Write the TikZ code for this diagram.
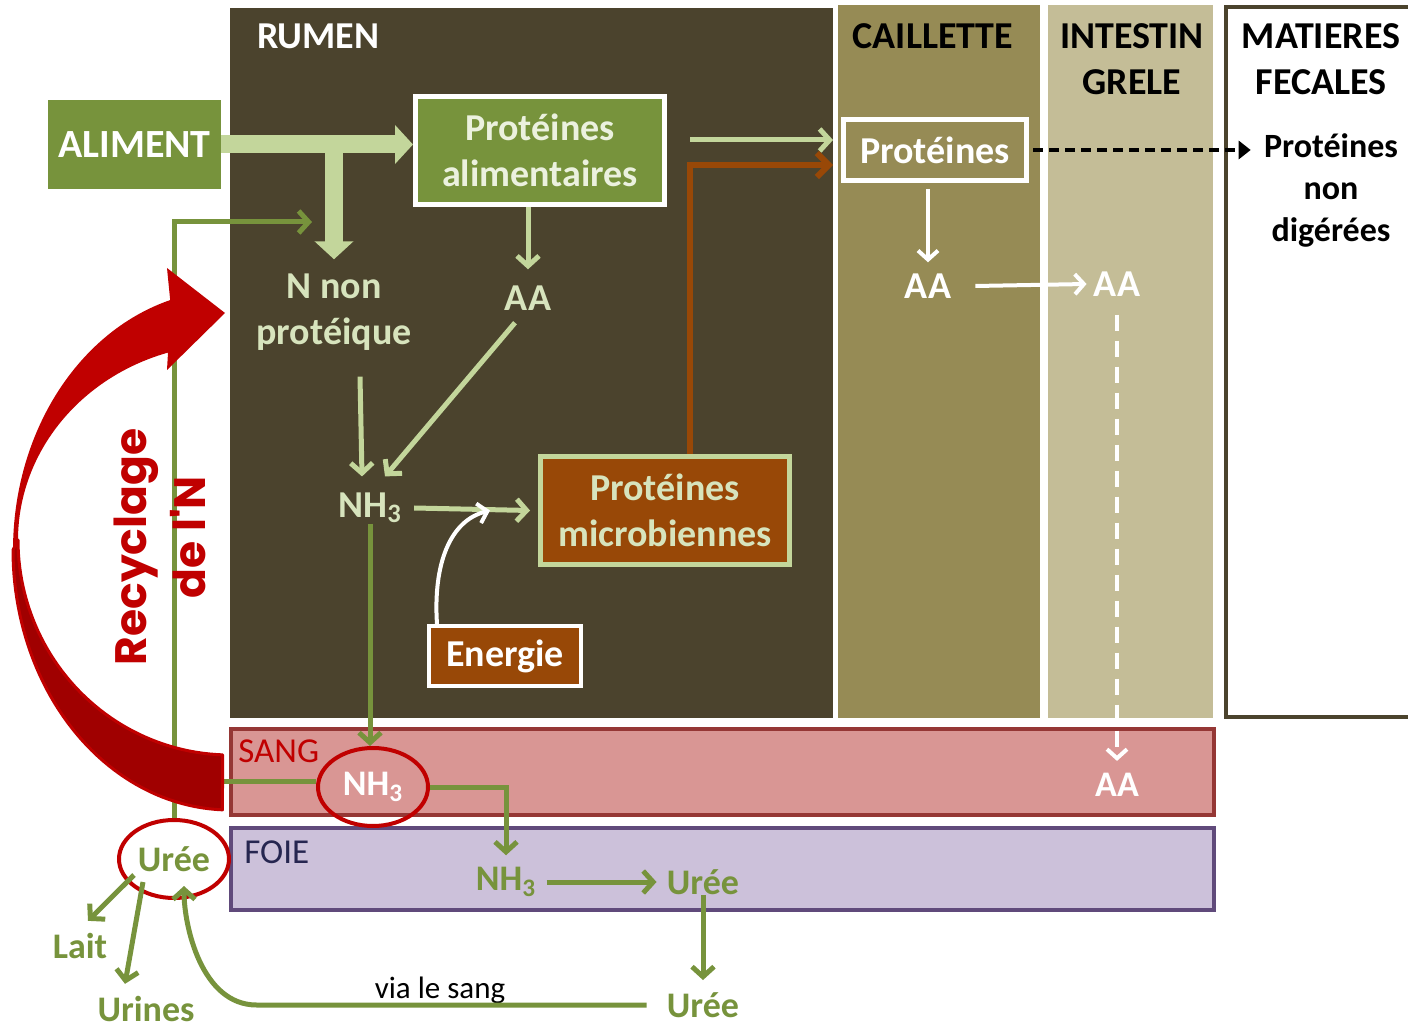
\documentclass[tikz,border=0pt]{standalone}
\usepackage{fontspec}
\setmainfont{Carlito}
\newfontfamily\recfont{Poppins}
\usetikzlibrary{arrows.meta,calc,shapes.geometric}
\definecolor{rumenbg}{RGB}{75,67,45}
\definecolor{caillbg}{RGB}{150,139,85}
\definecolor{intbg}{RGB}{196,189,151}
\definecolor{boxgreen}{RGB}{119,147,60}
\definecolor{lgreen}{RGB}{195,214,155}
\definecolor{lgtext}{RGB}{215,228,189}
\definecolor{paletext}{RGB}{235,241,222}
\definecolor{brownbox}{RGB}{152,72,7}
\definecolor{sangfill}{RGB}{217,150,148}
\definecolor{sangline}{RGB}{149,55,53}
\definecolor{foiefill}{RGB}{204,193,218}
\definecolor{foieline}{RGB}{96,74,123}
\definecolor{recred}{RGB}{192,0,0}
\definecolor{recdark}{RGB}{160,0,0}
\definecolor{navy}{RGB}{38,38,80}
\newcommand{\NHt}{NH\textsubscript{3}}
\begin{document}
\begin{tikzpicture}[x=0.5pt,y=-0.5pt,
  every node/.style={inner sep=0pt},
  txtb/.style={font=\bfseries\fontsize{19}{23}\selectfont},
  txtm/.style={font=\bfseries\fontsize{18}{22}\selectfont},
  txtr/.style={font=\fontsize{17.5}{21}\selectfont},
  bigarrow/.style={draw=lgreen, line width=9pt, -{Triangle[length=9pt,width=19pt]}},
  lgarrow/.style={draw=lgreen, line width=2.5pt, -{Straight Barb[length=5pt,width=11pt]}},
  garrow/.style={draw=boxgreen, line width=2.5pt, -{Straight Barb[length=5pt,width=11pt]}},
  gline/.style={draw=boxgreen, line width=2.5pt},
  warrow/.style={draw=white, line width=2pt, -{Straight Barb[length=4.5pt,width=10pt]}},
  wdash/.style={warrow, dash pattern=on 8pt off 5pt},
  bdash/.style={draw=black, line width=2pt, dash pattern=on 5pt off 3pt, -{Triangle[length=6pt,width=9pt]}},
  brarrow/.style={draw=brownbox, line width=3pt, -{Straight Barb[length=6pt,width=12pt]}},
  ringnode/.style={ellipse, draw=recred, line width=2pt, minimum width=55pt, minimum height=39pt}
]
\useasboundingbox (0,0) rectangle (1408,1031);
% panels
\fill[rumenbg] (230,8) rectangle (833,718);
\fill[caillbg] (838,5) rectangle (1040,718);
\fill[intbg] (1048,5) rectangle (1213,718);
\draw[rumenbg, line width=2pt] (1420,7) -- (1226,7) -- (1226,717) -- (1420,717);
\draw[sangline, fill=sangfill, line width=2pt] (231,729) rectangle (1214,815);
\draw[foieline, fill=foiefill, line width=2pt] (231,828) rectangle (1214,910);

% headers
\node[txtb, text=white, anchor=west] (rumen) at (257,36) {RUMEN};
\node[txtb] (caill) at (933,36) {CAILLETTE};
\node[txtb, align=center] (intest) at (1132,59) {INTESTIN\\GRELE};
\node[txtb, align=center] (mat) at (1321,59) {MATIERES\\FECALES};

% boxes
\node[font=\bfseries\fontsize{20}{24}\selectfont, fill=boxgreen, text=white, minimum width=86.5pt, minimum height=44.5pt] (aliment) at (134.5,144.5) {ALIMENT};
\node[txtb, fill=boxgreen, draw=white, line width=2.5pt, text=paletext, align=center, minimum width=124.5pt, minimum height=54pt] (protalim) at (540,150.5) {Protéines\\alimentaires};
\node[txtb, text=lgtext, align=center] (nnp) at (334,312) {N non\\protéique};
\node[txtb, text=lgtext] (aar) at (528,298) {AA};
\node[txtb, text=lgtext] (nh3r) at (370,508) {\NHt};
\node[txtb, fill=brownbox, draw=lgreen, line width=2.5pt, text=lgtext, align=center, minimum width=124.5pt, minimum height=54pt] (protmic) at (665,510.5) {Protéines\\microbiennes};
\node[txtb, fill=brownbox, draw=white, line width=2pt, text=white, minimum width=76pt, minimum height=30pt] (energie) at (505,656) {Energie};
\node[txtb, fill=caillbg, draw=white, line width=2.5pt, text=white, minimum width=91.5pt, minimum height=30.5pt] (protc) at (935,150) {Protéines};
\node[txtb, text=white] (aac) at (928,286) {AA};
\node[txtb, text=white] (aai) at (1117,284) {AA};
\node[font=\bfseries\fontsize{17}{21}\selectfont, align=center] (pnd) at (1331,190) {Protéines\\non\\digérées};

% sang / foie labels
\node[txtr, text=recred, anchor=west] (sang) at (238,751) {SANG};
\node[txtr, text=navy, anchor=west] (foie) at (244,852) {FOIE};
\node[txtm, text=white] (aas) at (1117,785) {AA};
\node[txtm, text=boxgreen] (nh3f) at (506,882) {\NHt};
\node[txtm, text=boxgreen] (ureF) at (703,882) {Urée};
\node[txtm, text=boxgreen] (ureB) at (703,1005) {Urée};
\node[txtm, text=boxgreen] (lait) at (80,946) {Lait};
\node[txtm, text=boxgreen] (urines) at (146,1009) {Urines};
\node[font=\fontsize{15.5}{18}\selectfont] (via) at (440,990) {via le sang};

% ringed nodes
\node[txtm, ringnode, text=white] (nh3s) at (373,787) {\NHt};
\node[txtm, ringnode, text=boxgreen] (ureL) at (174,859) {Urée};

% big T arrow
\draw[bigarrow] (aliment.east) -- (aliment.east -| protalim.west);
\draw[bigarrow] (aliment.east -| nnp.north) -- ([yshift=7pt]nnp.north);

% rumen thin arrows
\draw[lgarrow] ([xshift=-6pt]protalim.south) -- ([yshift=8pt]aar.north);
\draw[lgarrow] ([xshift=13pt,yshift=-13pt]nnp.south) -- ([xshift=-4pt,yshift=8pt]nh3r.north);
\draw[lgarrow] ([xshift=-6.5pt,yshift=-6pt]aar.south) -- ([xshift=7.5pt,yshift=8pt]nh3r.north);
\draw[lgarrow] ([xshift=6pt]nh3r.east) -- ([xshift=-4pt]protmic.west);
\draw[warrow] ([xshift=5pt]energie.north west) .. controls +(-4,-60) and +(-40,10) .. ([xshift=-24pt]protmic.west);

% to caillette
\coordinate (g1) at (690,140);
\draw[lgarrow] (g1) -- ([xshift=-4pt]g1 -| protc.west);
\draw[brarrow] ([xshift=12.5pt]protmic.north) |- ([xshift=-4pt,yshift=-7.5pt]protc.west);

% caillette / intestin
\draw[warrow, shorten <=3pt] (protc.south -| aac.north) -- ([yshift=5.5pt]aac.north);
\draw[warrow] ([xshift=12pt]aac.east) -- ([xshift=-3.5pt]aai.west);
\draw[wdash] ([yshift=-9pt]aai.south) -- ([yshift=6pt]aas.north);
\draw[bdash] ([xshift=2pt]protc.east) -- ([xshift=-6.5pt]protc.east -| pnd.west);

% nitrogen flows
\coordinate (rtip) at (312,222);
\draw[garrow] (ureL.north) |- (rtip);
\draw[gline] ([yshift=3pt]nh3s.west) -- ([yshift=3pt]nh3s.west -| ureL.north);
\draw[garrow] (nh3r.south) -- (nh3r.south |- nh3s.north);
\draw[garrow] (nh3s.east) -| ([yshift=6pt]nh3f.north);
\draw[garrow] ([xshift=5pt]nh3f.east) -- ([xshift=-5pt]ureF.west);
\draw[garrow] (ureF.south) -- ([yshift=6pt]ureB.north);
\draw[garrow] ([xshift=-10pt]ureB.west) -- ++(-390,0) .. controls +(-55,0) and +(0,40) .. ([xshift=5pt,yshift=7pt]ureL.south);
\draw[garrow] ([xshift=-20pt,yshift=-8pt]ureL.center) -- ([xshift=4pt,yshift=6pt]lait.north);
\draw[garrow] ([xshift=-15.5pt,yshift=-11.5pt]ureL.center) -- ([xshift=-10.5pt,yshift=6pt]urines.north);

% red recycling arrow
\filldraw[fill=recdark, draw=recred, line width=1.5pt, line join=round]
  plot[domain=180:92, samples=50] ({230+217*cos(\x)},{550+260*sin(\x)})
  -- plot[domain=92:180, samples=50] ({230+212*cos(\x)},{540+215*sin(\x)}) -- cycle;
\fill[recred]
  plot[domain=254:180, samples=50] ({230+217*cos(\x)},{550+260*sin(\x)})
  -- plot[domain=180:253, samples=50] ({230+212*cos(\x)},{540+196*sin(\x)})
  -- (167,370) -- (225,313) -- (167,268) -- cycle;
\node[rotate=90, font=\recfont\bfseries\fontsize{22}{26}\selectfont, text=recred] (recy) at (136,547) {Recyclage};
\node[rotate=90, font=\recfont\bfseries\fontsize{22}{26}\selectfont, text=recred] (recde) at (188,537) {de l'N};
\end{tikzpicture}
\end{document}
